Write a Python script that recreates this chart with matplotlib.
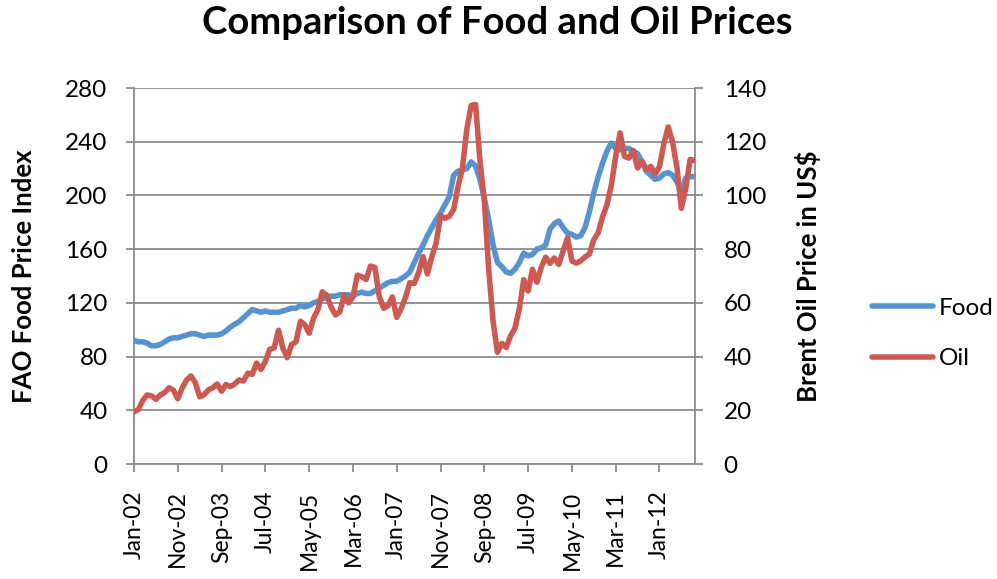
import matplotlib
matplotlib.use("Agg")
import matplotlib.pyplot as plt
import numpy as np

# monthly data, Jan-02 .. Sep-12
food = [92, 91, 91, 90, 88, 88, 89, 91, 93, 94, 94, 95,
        96, 97, 97, 96, 95, 96, 96, 96, 97, 99, 102, 104,
        106, 109, 112, 115, 114, 113, 114, 113, 113, 113, 114, 115,
        116, 116, 118, 117, 118, 120, 121, 123, 124, 125, 125, 126,
        126, 126, 125, 127, 128, 127, 127, 129, 131, 133, 135, 136,
        136, 138, 140, 143, 150, 157, 163, 170, 176, 182, 187, 193,
        199, 215, 218, 219, 220, 225, 222, 212, 198, 182, 163, 150,
        147, 143, 142, 145, 150, 157, 155, 156, 160, 161, 163, 175,
        179, 181, 176, 172, 171, 169, 170, 176, 188, 202, 214, 224,
        233, 239, 235, 234, 235, 235, 233, 231, 225, 218, 215, 212,
        213, 216, 217, 215, 210, 203, 213, 214, 214]

oil = [19.4, 20.3, 23.7, 25.7, 25.4, 24.1, 25.7, 26.6, 28.4, 27.5, 24.3, 28.3,
       31.2, 32.8, 30.3, 25.0, 25.8, 27.6, 28.4, 29.8, 27.1, 29.6, 28.8, 29.8,
       31.3, 30.9, 33.8, 33.4, 37.6, 35.2, 38.2, 42.7, 43.2, 49.8, 43.1, 39.6,
       44.5, 45.5, 53.1, 51.9, 48.7, 54.3, 57.5, 64.1, 62.9, 58.5, 55.5, 56.7,
       62.9, 60.0, 62.1, 70.3, 69.8, 68.7, 73.7, 73.2, 62.5, 58.0, 58.9, 62.2,
       54.6, 57.8, 62.1, 67.5, 67.2, 71.3, 77.2, 70.8, 77.1, 82.3, 92.5, 91.5,
       92.2, 94.8, 103.3, 110.2, 124.6, 133.5, 133.9, 113.0, 98.1, 72.4, 53.2, 41.6,
       44.9, 43.4, 47.7, 50.6, 57.9, 68.6, 64.4, 72.5, 67.7, 73.2, 77.0, 74.7,
       76.7, 74.3, 79.3, 84.2, 75.6, 74.8, 75.6, 77.1, 78.2, 83.5, 86.1, 92.0,
       96.5, 103.7, 114.6, 123.3, 114.5, 113.9, 116.7, 110.2, 112.8, 109.6, 110.8, 107.9,
       110.7, 119.3, 125.5, 119.8, 110.3, 95.2, 102.6, 113.4, 113.0]

months = ["Jan", "Feb", "Mar", "Apr", "May", "Jun",
          "Jul", "Aug", "Sep", "Oct", "Nov", "Dec"]
labels = [f"{months[i % 12]}-{2 + i // 12:02d}" for i in range(len(food))]

FONT = "Lato"
GRID = "#8c8c8c"
BLUE = "#5793cf"
RED = "#cc5a52"

plt.rcParams['font.family'] = FONT

fig = plt.figure(figsize=(9.97, 5.79), dpi=100)
ax = fig.add_axes([0.1344, 0.1986, 0.5622, 0.6494])
ax2 = ax.twinx()

x = np.arange(len(food))
lf, = ax.plot(x, food, color=BLUE, lw=4.0, solid_capstyle='round', label='Food', zorder=3)
lo, = ax2.plot(x, oil, color=RED, lw=4.0, solid_capstyle='round', label='Oil', zorder=3)

ax.set_xlim(0, len(food) - 1)
ax.set_ylim(0, 280)
ax2.set_ylim(0, 140)
ax.set_yticks(np.arange(0, 281, 40))
ax2.set_yticks(np.arange(0, 141, 20))
ax.set_xticks(x[::10])
ax.set_xticklabels(labels[::10], rotation=90)

ax.yaxis.grid(True, color=GRID, lw=1.3)
ax.set_axisbelow(True)
for a in (ax, ax2):
    for s in a.spines.values():
        s.set_visible(False)
ax.spines['left'].set_visible(True)
ax.spines['bottom'].set_visible(True)
ax2.spines['right'].set_visible(True)
for s in (ax.spines['left'], ax.spines['bottom'], ax2.spines['right']):
    s.set_color(GRID)
    s.set_linewidth(1.3)

ax.tick_params(axis='y', length=6, color=GRID, width=1.3, labelsize=17.5, pad=13)
ax2.tick_params(axis='y', length=6, color=GRID, width=1.3, labelsize=17.5, pad=15)
ax.tick_params(axis='x', length=6, color=GRID, width=1.3, labelsize=16.5, pad=13)

ax.set_ylabel("FAO Food Price Index", fontsize=18.5, fontweight='bold')
ax2.set_ylabel("Brent Oil Price in US$", fontsize=18.5, fontweight='bold')
ax.yaxis.set_label_coords(-0.175, 0.5)
ax2.yaxis.set_label_coords(1.18, 0.5)

fig.suptitle("Comparison of Food and Oil Prices", fontsize=27.5, fontweight='bold',
             x=0.499, y=0.99)

fig.legend(handles=[lf, lo], loc='center left', bbox_to_anchor=(0.8746, 0.424),
           frameon=False, fontsize=17.5, handlelength=2.5, handletextpad=0.25,
           labelspacing=1.2, borderpad=0, borderaxespad=0)

fig.savefig("out.png", dpi=100)
